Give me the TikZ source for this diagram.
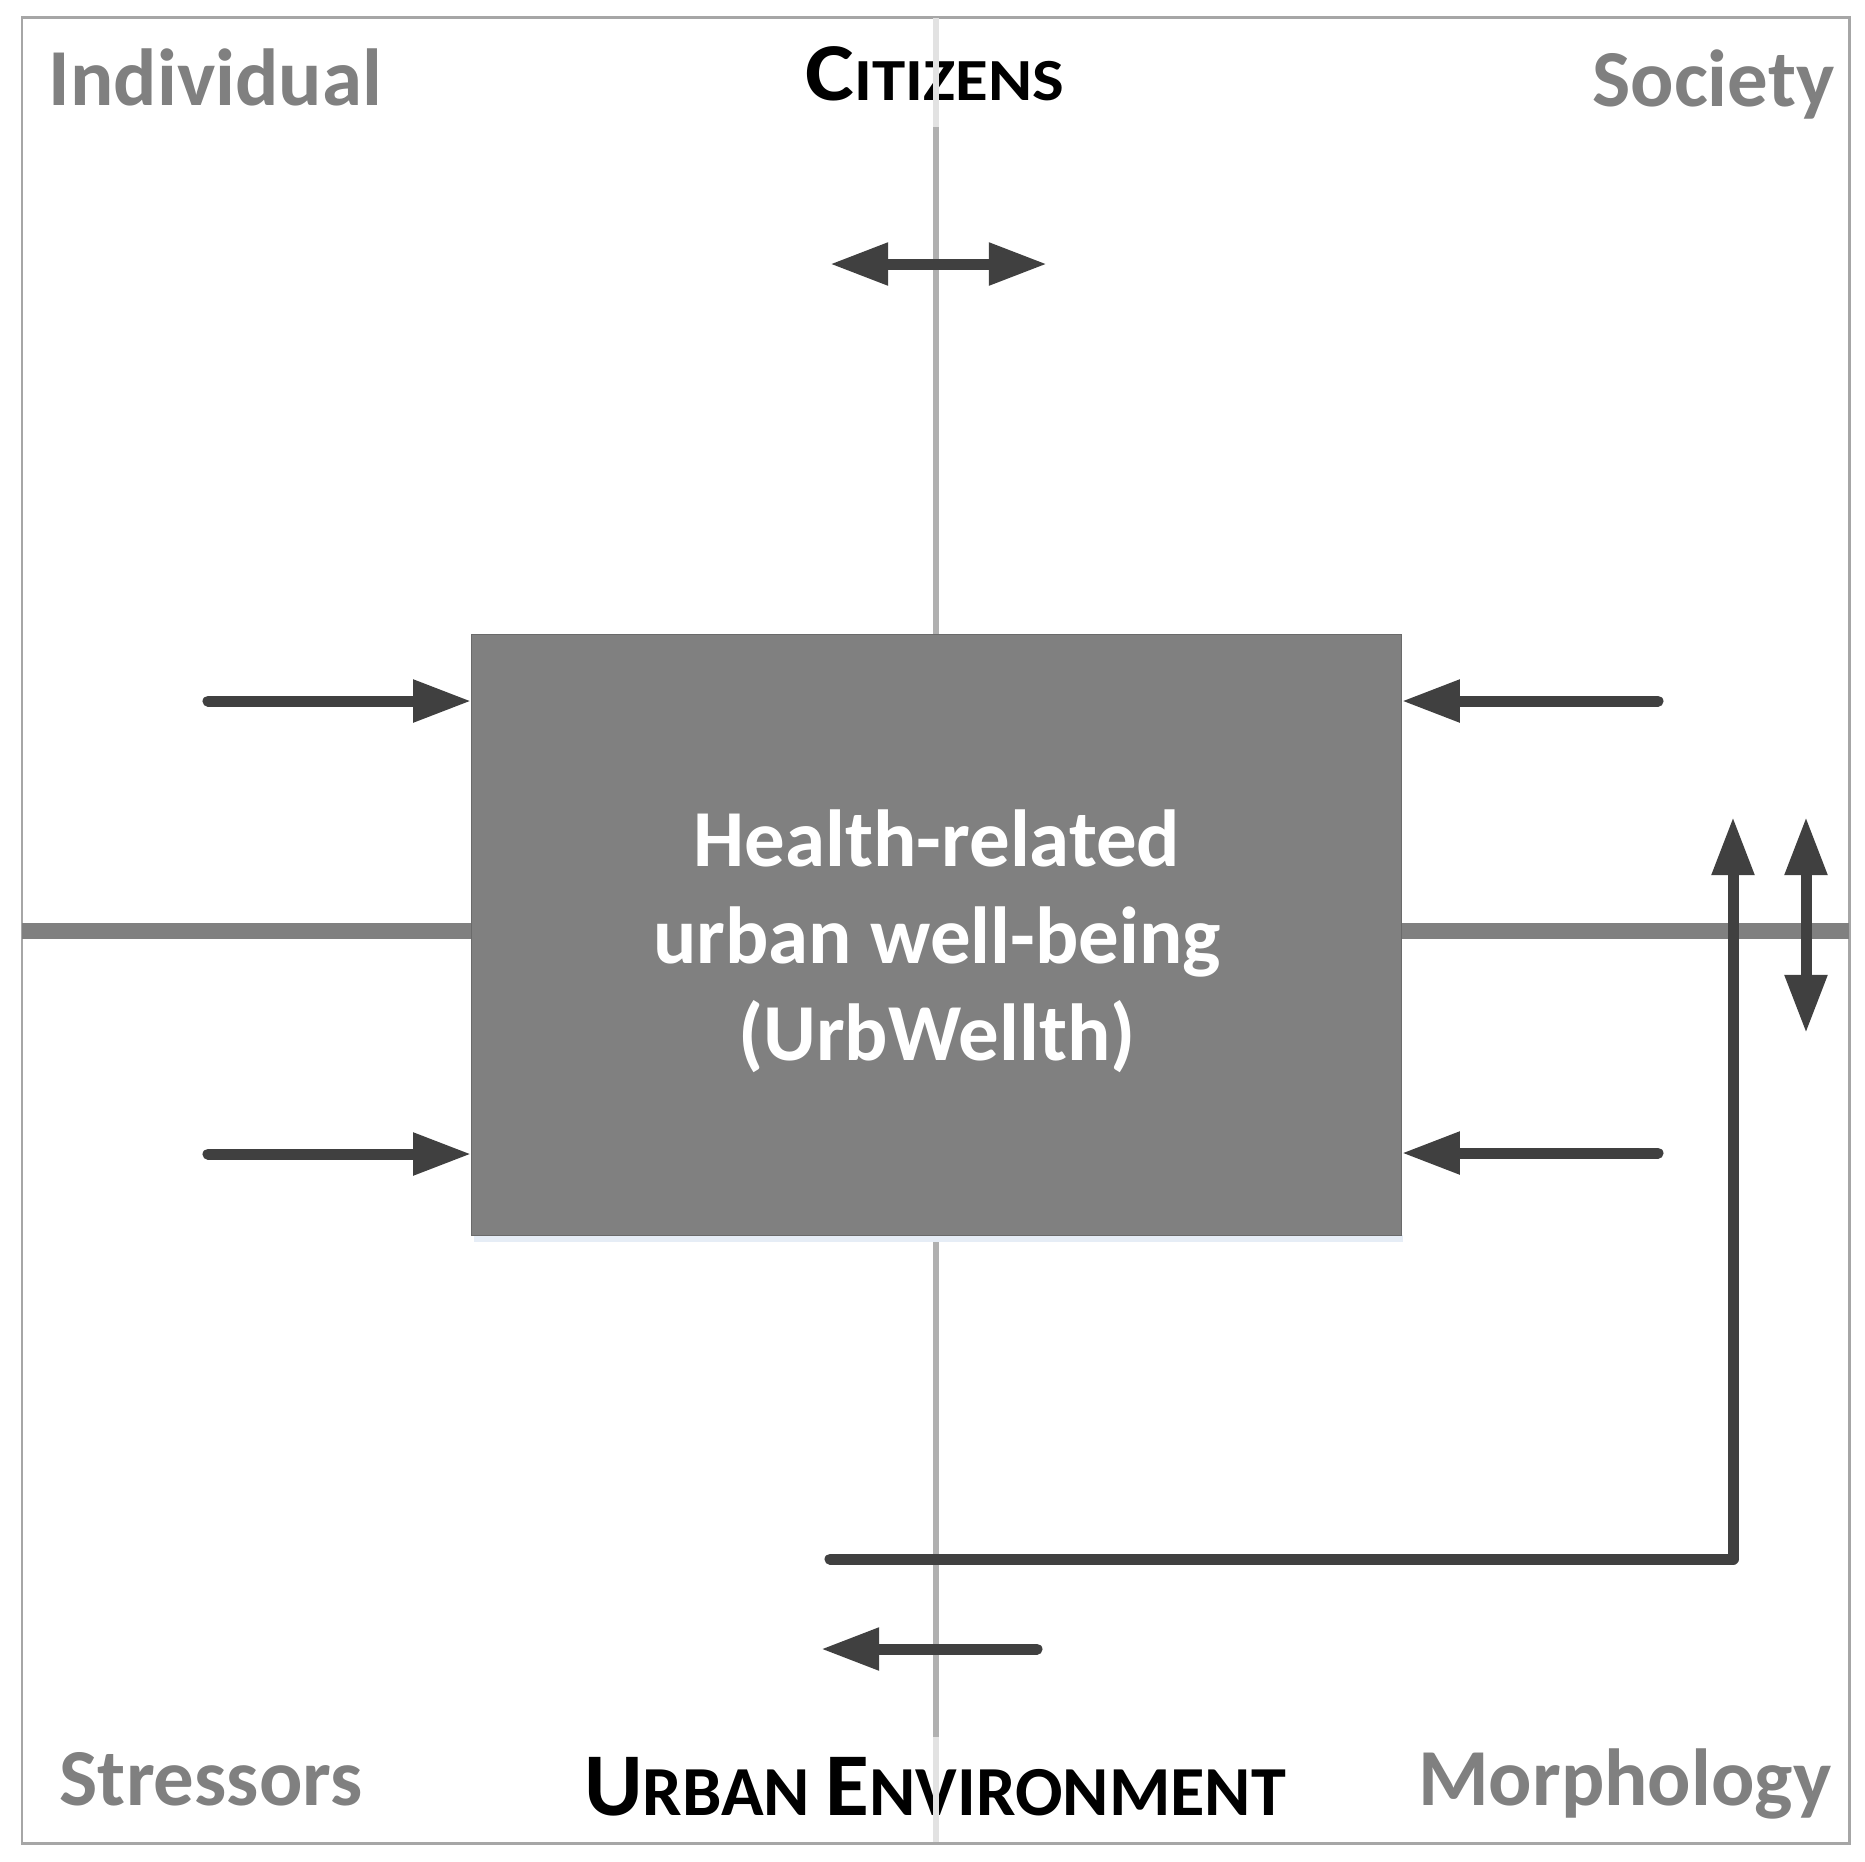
\documentclass[tikz,border=0pt]{standalone}
\usepackage{fontspec}
\usepackage{graphicx}
\setmainfont{Carlito}
\usetikzlibrary{arrows.meta}
\definecolor{arrowc}{HTML}{404040}
\definecolor{labelgray}{HTML}{808080}
\definecolor{framec}{HTML}{A6A6A6}
\definecolor{vlinec}{HTML}{B0B0B0}
\definecolor{faintc}{HTML}{E2E2E2}
\definecolor{boxfill}{HTML}{808080}
\definecolor{boxedge}{HTML}{6A6A6A}
\definecolor{shadowc}{HTML}{E6EDF6}
\newcommand\capsize[2]{{\fontsize{#1}{#1}\selectfont #2}}
\begin{document}
\begin{tikzpicture}[x=0.01cm,y=-0.01cm,
  tipA/.tip={Triangle[length=16.5pt,width=11.4pt]},
  arr/.style={draw=arrowc, line width=3.13pt, line cap=round, -tipA},
  darr/.style={draw=arrowc, line width=3.13pt, line cap=round, tipA-tipA},
  corner/.style={text=labelgray, font=\bfseries\fontsize{23}{27}\selectfont, inner sep=0pt},
  axislabel/.style={text=black, font=\bfseries, inner sep=0pt},
  framestyle/.style={draw=framec, line width=0.85pt},
  vaxis/.style={draw=vlinec, line width=1.5pt},
  vfaint/.style={draw=faintc, line width=1.6pt},
  haxis/.style={draw=labelgray, line width=4.4pt},
  mainbox/.style={fill=boxfill, draw=boxedge, line width=0.3pt, minimum width=9.29cm, minimum height=6cm, inner sep=0pt},
  boxtext/.style={align=center, text=white, font=\bfseries\fontsize{23}{27.6}\selectfont, inner sep=0pt},
]
\useasboundingbox (0,0) rectangle (1865,1862);
\fill[white] (0,0) rectangle (1865,1862);

% frame
\coordinate (fnw) at (22,17);
\coordinate (fse) at (1849,1843);
\draw[framestyle] (fnw) rectangle (fse);

% axes
\coordinate (vtop) at (936,127);
\coordinate (vbot) at (936,1737);
\coordinate (vtop0) at (936,18);
\coordinate (vbot0) at (936,1842);
\draw[vaxis] (vtop) -- (vbot);
\coordinate (hl) at (22,931);
\coordinate (hr) at (1849,931);
\draw[haxis] (hl) -- (hr);

% shadow and box
\fill[shadowc] (474,1235) rectangle (1403,1242);
\node[mainbox] (box) at (936.5,935) {};
\node[boxtext] (boxlabel) at (937,941) {Health-related\\urban well-being\\(UrbWellth)};

% corner labels
\node[corner, anchor=base west] (ind) at (48,105) {Individual};
\node[corner, anchor=base east] (soc) at (1835,106) {Society};
\node[corner, anchor=base west] (str) at (59,1805) {Stressors};
\node[corner, anchor=base east] (mor) at (1832,1805) {Morphology};

% axis labels
\node[axislabel, anchor=base] (cit) at (935,100)
  {\scalebox{1.12}[1]{\capsize{23.4}{C}\capsize{17}{ITIZENS}}};
\node[axislabel, anchor=base] (urb) at (935,1815)
  {\capsize{25.5}{U}\capsize{20}{RBAN\ }\capsize{25.5}{E}\capsize{20}{NVIRONMENT}};

% faint axis parts over the labels
\draw[vfaint] (vtop0) -- (vtop);
\draw[vfaint] (vbot) -- (vbot0);

% arrows into the box
\coordinate (l1) at (208,701);
\coordinate (l2) at (208,1154);
\coordinate (r1) at (1658,701);
\coordinate (r2) at (1658,1153);
\draw[arr] (l1) -- (l1 -| box.west);
\draw[arr] (l2) -- (l2 -| box.west);
\draw[arr] (r1) -- (r1 -| box.east);
\draw[arr] (r2) -- (r2 -| box.east);

% top double arrow
\coordinate (tl) at (830,264);
\coordinate (tr) at (1047,264);
\draw[darr] (tl) -- (tr);

% bottom arrow
\coordinate (bs) at (1037,1649);
\coordinate (be) at (821,1649);
\draw[arr] (bs) -- (be);

% elbow feedback arrow
\coordinate (e1) at (830,1559);
\coordinate (e2) at (1733,1559);
\coordinate (e3) at (1733,817);
\draw[arr, line join=round] (e1) -- (e2) -- (e3);

% vertical double arrow
\coordinate (d1) at (1806,817);
\coordinate (d2) at (1806,1033);
\draw[darr] (d1) -- (d2);
\end{tikzpicture}
\end{document}
